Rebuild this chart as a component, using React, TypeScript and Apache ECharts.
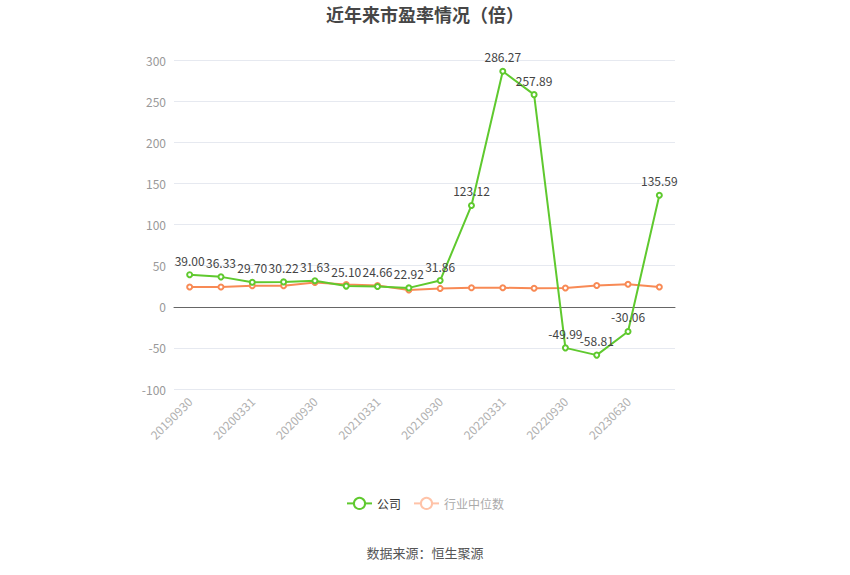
import { useEffect, useRef } from 'react';
import * as echarts from 'echarts';

const categories = [
  '20190930', '20191231', '20200331', '20200630', '20200930', '20201231',
  '20210331', '20210630', '20210930', '20211231', '20220331', '20220630',
  '20220930', '20221231', '20230630', '20230930',
];
const companyPE = [
  39.0, 36.33, 29.7, 30.22, 31.63, 25.1, 24.66, 22.92,
  31.86, 123.12, 286.27, 257.89, -49.99, -58.81, -30.06, 135.59,
];
const industryPE = [
  24.0, 24.1, 25.5, 25.6, 29.5, 27.0, 25.8, 20.5,
  22.3, 23.0, 23.1, 22.4, 22.8, 25.9, 27.3, 24.0,
];

const GREEN = '#5fc92e';
const ORANGE = '#f88a55';
const FONT = '"Microsoft YaHei", "Noto Sans CJK SC", sans-serif';

const App = () => {
  const ref = useRef<HTMLDivElement>(null);

  useEffect(() => {
    if (!ref.current) return;
    const chart = echarts.init(ref.current, null, { renderer: 'svg' });

    chart.setOption({
      animation: false,
      backgroundColor: '#fff',
      textStyle: { fontFamily: FONT },
      title: {
        text: '近年来市盈率情况（倍）',
        left: 'center',
        top: 0,
        textStyle: { fontSize: 18, fontWeight: 'bold', color: '#464646', fontFamily: FONT },
      },
      legend: {
        bottom: 60,
        left: 'center',
        itemWidth: 25,
        itemHeight: 14,
        itemGap: 12,
        textStyle: { fontSize: 12, color: '#333' },
        data: [
          { name: '公司' },
          {
            name: '行业中位数',
            itemStyle: { color: '#ffc3a8' },
            lineStyle: { color: '#ffc3a8' },
            textStyle: { color: '#aaa' },
          },
        ],
      },
      graphic: [
        {
          type: 'text',
          left: 'center',
          top: 546,
          style: { text: '数据来源：恒生聚源', fontSize: 13, fill: '#555', fontFamily: FONT },
        },
      ],
      grid: { left: 174, right: 175, top: 60, bottom: 186 },
      xAxis: {
        type: 'category',
        data: categories,
        boundaryGap: true,
        axisLine: { lineStyle: { color: '#666' } },
        axisTick: { alignWithLabel: true, interval: 1, lineStyle: { color: '#666' } },
        axisLabel: { interval: 1, rotate: 45, color: '#b0b0b0', fontSize: 12, margin: 10 },
      },
      yAxis: {
        type: 'value',
        min: -100,
        max: 300,
        interval: 50,
        axisLine: { show: false },
        axisTick: { show: false },
        axisLabel: { color: '#999', fontSize: 12, margin: 8 },
        splitLine: { lineStyle: { color: '#e6e9f0' } },
      },
      series: [
        {
          name: '公司',
          type: 'line',
          data: companyPE,
          symbol: 'emptyCircle',
          symbolSize: 5,
          lineStyle: { color: GREEN, width: 2 },
          itemStyle: { color: GREEN },
          label: {
            show: true,
            position: 'top',
            color: '#444',
            fontSize: 12,
            formatter: (p: any) => Number(p.value).toFixed(2),
          },
          z: 3,
        },
        {
          name: '行业中位数',
          type: 'line',
          data: industryPE,
          symbol: 'emptyCircle',
          symbolSize: 5,
          lineStyle: { color: ORANGE, width: 2 },
          itemStyle: { color: ORANGE },
          z: 2,
        },
      ],
    });

    return () => {
      chart.dispose();
    };
  }, []);

  return (
    <div
      ref={ref}
      style={{ position: 'absolute', left: 0, top: 0, width: 850, height: 575 }}
    />
  );
};

export default App;
